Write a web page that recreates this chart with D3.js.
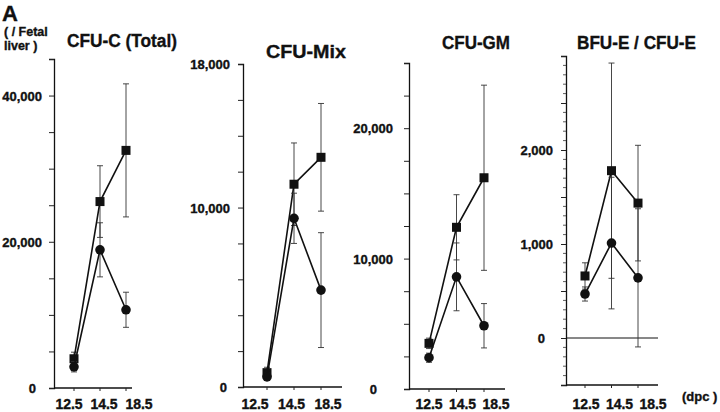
<!DOCTYPE html>
<html><head><meta charset="utf-8">
<script src="https://cdn.jsdelivr.net/npm/d3@7"></script>
<style>
html,body{margin:0;padding:0;background:#fff;}
text{font-family:"Liberation Sans",Arial,Helvetica,sans-serif;font-weight:bold;fill:#111;stroke:#111;stroke-width:0.35px;}
</style></head>
<body><svg id="chart" width="720" height="412"></svg>
<script>
// ---- data ----
const categories = ["12.5", "14.5", "18.5"];
const panelTitles = ["CFU-C (Total)", "CFU-Mix", "CFU-GM", "BFU-E / CFU-E"];

const totalSquare = [4000, 25500, 32500];
const totalSquareErr = [900, 4900, 9100];
const totalCircle = [2900, 18900, 10700];
const totalCircleErr = [700, 3700, 2400];

const mixSquare = [800, 11300, 12800];
const mixSquareErr = [300, 2300, 3000];
const mixCircle = [560, 9400, 5400];
const mixCircleErr = [200, 1400, 3200];

const gmSquare = [3500, 12400, 16200];
const gmSquareErr = [400, 2500, 7100];
const gmCircle = [2400, 8600, 4850];
const gmCircleErr = [350, 2600, 1700];

const eSquare = [660, 1780, 1435];
const eSquareErr = [140, 1145, 615];
const eCircle = [468, 1010, 640];
const eCircleErr = [75, 700, 735];

const totalTicks = [0, 20000, 40000];
const mixTicks = [0, 10000, 18000];
const gmTicks = [0, 10000, 20000];
const eTicks = [0, 1000, 2000];

// ---- layout ----
const svg = d3.select("#chart");
const fmt = d3.format(",");

const panels = [
  {title: panelTitles[0], sq: totalSquare, sqE: totalSquareErr, ci: totalCircle, ciE: totalCircleErr,
   labels: totalTicks, domain: [0, 45000], step: 5000, minor: null,
   ax: 54, xEnd: 132, yTop: 59, yBot: 388, xr: [74, 126], lr: [69, 139],
   labRight: 42, zeroRight: 36, titleX: 67, titleY: 47, titleW: 110},
  {title: panelTitles[1], sq: mixSquare, sqE: mixSquareErr, ci: mixCircle, ciE: mixCircleErr,
   labels: mixTicks, domain: [0, 18000], step: 2000, minor: null,
   ax: 243, xEnd: 342, yTop: 64, yBot: 387, xr: [267, 321], lr: [255, 328],
   labRight: 230, zeroRight: 227, titleX: 266, titleY: 58, titleW: 80},
  {title: panelTitles[2], sq: gmSquare, sqE: gmSquareErr, ci: gmCircle, ciE: gmCircleErr,
   labels: gmTicks, domain: [0, 25000], step: 2500, minor: null,
   ax: 409, xEnd: 505, yTop: 63, yBot: 389, xr: [429, 484], lr: [429, 496],
   labRight: 393, zeroRight: 377, titleX: 442, titleY: 49, titleW: 68},
  {title: panelTitles[3], sq: eSquare, sqE: eSquareErr, ci: eCircle, ciE: eCircleErr,
   labels: eTicks, domain: [-500, 3000], step: 500, minor: 100,
   ax: 566, xEnd: 658, yTop: 56, yBot: 385, xr: [585, 638], lr: [586, 653],
   labRight: 553, zeroRight: 545, titleX: 577, titleY: 49, titleW: 119, zeroLine: true}
];

panels.forEach(p => {
  const g = svg.append("g");
  const y = d3.scaleLinear().domain(p.domain).range([p.yBot, p.yTop]);
  const x = d3.scalePoint().domain(categories).range(p.xr);
  const xl = d3.scalePoint().domain(categories).range(p.lr);

  // y axis (ticks only, labels drawn separately)
  const majors = d3.range(p.domain[0], p.domain[1] + 1, p.step);
  const yAxis = d3.axisLeft(y).tickValues(majors).tickSize(5).tickFormat("");
  const ga = g.append("g").attr("transform", `translate(${p.ax},0)`).call(yAxis);
  ga.select(".domain").attr("stroke", "#111").attr("stroke-width", 1.3);
  ga.selectAll(".tick line").attr("stroke", "#222").attr("stroke-width", 1);
  if (p.minor) {
    const minors = d3.range(p.domain[0], p.domain[1] + 1, p.minor).filter(v => v % p.step !== 0);
    g.append("g").selectAll("line").data(minors).join("line")
      .attr("x1", p.ax - 3).attr("x2", p.ax)
      .attr("y1", d => y(d)).attr("y2", d => y(d))
      .attr("stroke", "#333").attr("stroke-width", 0.8);
  }
  // y labels
  g.append("g").selectAll("text").data(p.labels).join("text")
    .attr("x", d => d === 0 ? p.zeroRight : p.labRight)
    .attr("y", d => y(d) + 5)
    .attr("text-anchor", "end")
    .style("font-size", "13px")
    .text(d => fmt(d));

  // x axis line
  g.append("line").attr("x1", p.ax).attr("x2", p.xEnd)
    .attr("y1", p.yBot).attr("y2", p.yBot)
    .attr("stroke", "#111").attr("stroke-width", 1.3);
  g.append("g").selectAll("line").data(categories).join("line")
    .attr("x1", d => x(d)).attr("x2", d => x(d))
    .attr("y1", p.yBot).attr("y2", p.yBot + 3)
    .attr("stroke", "#222").attr("stroke-width", 1);
  if (p.zeroLine) {
    g.append("line").attr("x1", p.ax).attr("x2", p.xEnd)
      .attr("y1", y(0)).attr("y2", y(0))
      .attr("stroke", "#111").attr("stroke-width", 1);
  }
  // x labels
  g.append("g").selectAll("text").data(categories).join("text")
    .attr("x", d => xl(d)).attr("y", 409)
    .attr("text-anchor", "middle")
    .style("font-size", "14px")
    .text(d => d);

  // title
  g.append("text").attr("x", p.titleX).attr("y", p.titleY)
    .attr("textLength", p.titleW).attr("lengthAdjust", "spacingAndGlyphs")
    .style("font-size", "18px").text(p.title);

  // series
  const series = [
    {vals: p.sq, err: p.sqE, shape: "square"},
    {vals: p.ci, err: p.ciE, shape: "circle"}
  ];
  series.forEach(s => {
    const pts = categories.map((c, i) => ({c, v: s.vals[i], e: s.err[i]}));
    const eb = g.append("g");
    eb.selectAll("line.v").data(pts).join("line").attr("class", "v")
      .attr("x1", d => x(d.c)).attr("x2", d => x(d.c))
      .attr("y1", d => y(d.v - d.e)).attr("y2", d => y(d.v + d.e))
      .attr("stroke", "#333").attr("stroke-width", 0.9);
    eb.selectAll("line.t").data(pts).join("line").attr("class", "t")
      .attr("x1", d => x(d.c) - 3).attr("x2", d => x(d.c) + 3)
      .attr("y1", d => y(d.v + d.e)).attr("y2", d => y(d.v + d.e))
      .attr("stroke", "#333").attr("stroke-width", 0.9);
    eb.selectAll("line.b").data(pts).join("line").attr("class", "b")
      .attr("x1", d => x(d.c) - 3).attr("x2", d => x(d.c) + 3)
      .attr("y1", d => y(d.v - d.e)).attr("y2", d => y(d.v - d.e))
      .attr("stroke", "#333").attr("stroke-width", 0.9);
    g.append("path").datum(pts)
      .attr("d", d3.line().x(d => x(d.c)).y(d => y(d.v)))
      .attr("fill", "none").attr("stroke", "#111").attr("stroke-width", 1.6);
    if (s.shape === "square") {
      g.append("g").selectAll("rect").data(pts).join("rect")
        .attr("x", d => x(d.c) - 4.5).attr("y", d => y(d.v) - 4.5)
        .attr("width", 9).attr("height", 9).attr("fill", "#111");
    } else {
      g.append("g").selectAll("circle").data(pts).join("circle")
        .attr("cx", d => x(d.c)).attr("cy", d => y(d.v)).attr("r", 4.8)
        .attr("fill", "#111");
    }
  });
});

// annotations
svg.append("text").attr("x", 2).attr("y", 21).style("font-size", "22px").text("A");
svg.append("text").attr("x", 4).attr("y", 36).style("font-size", "12.5px").text("( / Fetal");
svg.append("text").attr("x", 4).attr("y", 50).style("font-size", "12.5px").text("liver )");
svg.append("text").attr("x", 682).attr("y", 401).style("font-size", "13px").text("(dpc )");
</script>
</body></html>
